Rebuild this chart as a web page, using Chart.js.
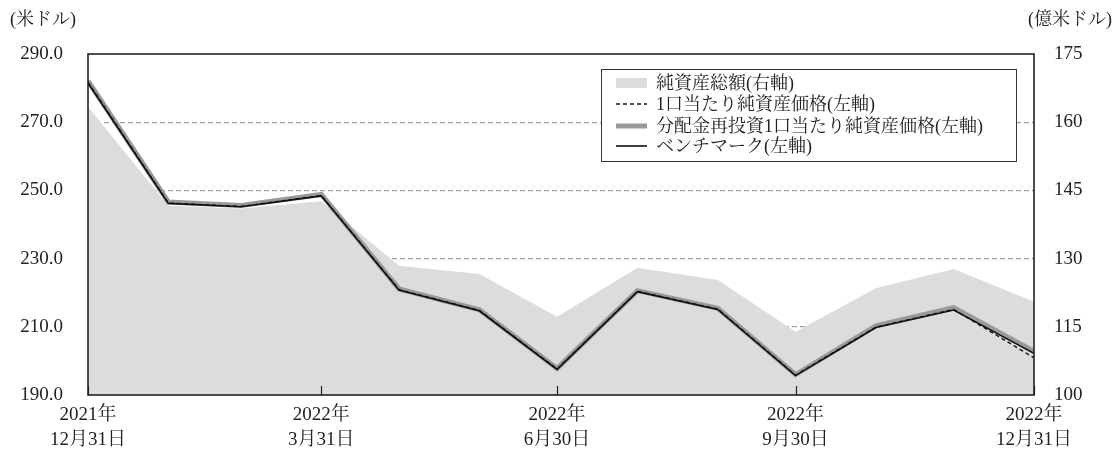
<!DOCTYPE html>
<html>
<head>
<meta charset="utf-8">
<script src="https://cdn.jsdelivr.net/npm/chart.js@4"></script>
<style>
  body { margin: 0; background: #fff; }
</style>
</head>
<body>
<canvas id="navChart" width="1115" height="450"></canvas>
<script>
// month-end observation dates
const dates = [
  "2021-12-31", "2022-01-31", "2022-02-28", "2022-03-31", "2022-04-30", "2022-05-31",
  "2022-06-30", "2022-07-31", "2022-08-31", "2022-09-30", "2022-10-31", "2022-11-30", "2022-12-31"
];
// 純資産総額 (億米ドル, right axis)
const totalAssets = [163.4, 141.6, 141.0, 142.6, 128.4, 126.6, 117.2, 128.0, 125.3, 113.9, 123.5, 127.7, 120.5];
// 1口当たり純資産価格 (米ドル)
const navPerUnit = [281.8, 246.3, 245.3, 248.5, 220.9, 214.8, 197.6, 220.4, 215.2, 195.8, 209.9, 215.1, 200.9];
// 分配金再投資1口当たり純資産価格 (米ドル)
const navReinvested = [282.1, 246.6, 245.6, 248.8, 221.1, 215.0, 197.8, 220.6, 215.4, 196.0, 210.3, 215.6, 202.8];
// ベンチマーク (米ドル)
const benchmark = [281.5, 246.2, 245.2, 248.4, 220.8, 214.7, 197.5, 220.3, 215.1, 195.7, 209.8, 214.9, 202.2];

// quarter-end axis labels
const tickDates = ["2021-12-31", "2022-03-31", "2022-06-30", "2022-09-30", "2022-12-31"];
const tickLabels = [
  ["2021年", "12月31日"],
  ["2022年", "3月31日"],
  ["2022年", "6月30日"],
  ["2022年", "9月30日"],
  ["2022年", "12月31日"]
];

const legendItems = [
  "純資産総額(右軸)",
  "1口当たり純資産価格(左軸)",
  "分配金再投資1口当たり純資産価格(左軸)",
  "ベンチマーク(左軸)"
];

const FONT = '"Liberation Serif", "Noto Serif CJK JP", "Noto Sans CJK JP", serif';
const DAY = 86400000;
const dayOf = d => (Date.parse(d) - Date.parse(dates[0])) / DAY;
const series = vals => vals.map((v, i) => ({ x: dayOf(dates[i]), y: v }));
const tickDays = tickDates.map(dayOf);

const frameAndLegend = {
  id: "frameAndLegend",
  afterDatasetsDraw(chart) {
    const { ctx, chartArea: a, scales } = chart;
    ctx.save();

    // inward tick marks on the date axis
    ctx.strokeStyle = "#222";
    ctx.lineWidth = 1.2;
    tickDays.forEach(d => {
      const x = Math.round(scales.x.getPixelForValue(d)) + 0.5;
      ctx.beginPath();
      ctx.moveTo(x, a.bottom);
      ctx.lineTo(x, a.bottom - 9);
      ctx.stroke();
    });

    // plot frame
    ctx.strokeStyle = "#222";
    ctx.lineWidth = 1.6;
    ctx.strokeRect(a.left, a.top, a.right - a.left, a.bottom - a.top);

    // legend box
    const bx = 601, by = 69, bw = 415, bh = 92;
    ctx.fillStyle = "#fff";
    ctx.fillRect(bx, by, bw, bh);
    ctx.strokeStyle = "#333";
    ctx.lineWidth = 1;
    ctx.strokeRect(bx + 0.5, by + 0.5, bw, bh);

    ctx.font = "18px " + FONT;
    ctx.textBaseline = "middle";
    ctx.textAlign = "left";
    const rows = [83, 104, 126, 146];
    const sx = 616, ex = 647;
    rows.forEach((y, i) => {
      ctx.save();
      if (i === 0) {
        ctx.fillStyle = "#dcdcdc";
        ctx.fillRect(sx, y - 5, ex - sx, 10);
      } else if (i === 1) {
        ctx.strokeStyle = "#111";
        ctx.lineWidth = 1.5;
        ctx.setLineDash([4, 3]);
        ctx.beginPath(); ctx.moveTo(sx, y); ctx.lineTo(ex, y); ctx.stroke();
      } else if (i === 2) {
        ctx.strokeStyle = "#999";
        ctx.lineWidth = 5;
        ctx.beginPath(); ctx.moveTo(sx, y); ctx.lineTo(ex, y); ctx.stroke();
      } else {
        ctx.strokeStyle = "#111";
        ctx.lineWidth = 1.6;
        ctx.beginPath(); ctx.moveTo(sx, y); ctx.lineTo(ex, y); ctx.stroke();
      }
      ctx.restore();
      ctx.fillStyle = "#222";
      ctx.fillText(legendItems[i], 656, y + 1);
    });

    // unit captions
    ctx.font = "18px " + FONT;
    ctx.fillStyle = "#222";
    ctx.textAlign = "left";
    ctx.fillText("(米ドル)", 10, 20);
    ctx.textAlign = "right";
    ctx.fillText("(億米ドル)", 1112, 20);
    ctx.restore();
  }
};

new Chart(document.getElementById("navChart").getContext("2d"), {
  type: "line",
  data: {
    datasets: [
      {
        label: legendItems[0],
        data: series(totalAssets),
        yAxisID: "y2",
        fill: "start",
        backgroundColor: "#dcdcdc",
        borderWidth: 0,
        pointRadius: 0,
        order: 4
      },
      {
        label: legendItems[1],
        data: series(navPerUnit),
        yAxisID: "y",
        borderColor: "#111",
        borderWidth: 1.4,
        borderDash: [4, 3],
        pointRadius: 0,
        fill: false,
        order: 2
      },
      {
        label: legendItems[2],
        data: series(navReinvested),
        yAxisID: "y",
        borderColor: "#999",
        borderWidth: 5,
        pointRadius: 0,
        fill: false,
        order: 3
      },
      {
        label: legendItems[3],
        data: series(benchmark),
        yAxisID: "y",
        borderColor: "#111",
        borderWidth: 1.6,
        pointRadius: 0,
        fill: false,
        order: 1
      }
    ]
  },
  options: {
    responsive: false,
    animation: false,
    layout: { padding: { top: 54, left: 0, right: 0, bottom: 0 } },
    plugins: {
      legend: { display: false },
      tooltip: { enabled: false }
    },
    scales: {
      x: {
        type: "linear",
        min: 0,
        max: dayOf(dates[dates.length - 1]),
        afterBuildTicks: scale => { scale.ticks = tickDays.map(v => ({ value: v })); },
        afterFit: scale => { scale.height = 55; },
        ticks: {
          autoSkip: false,
          maxRotation: 0,
          padding: 8,
          color: "#222",
          font: { family: FONT, size: 19, lineHeight: 1.3 },
          callback: (v, i) => tickLabels[i]
        },
        grid: { display: false, drawTicks: false },
        border: { display: false }
      },
      y: {
        position: "left",
        min: 190,
        max: 290,
        afterFit: scale => { scale.width = 88; },
        ticks: {
          stepSize: 20,
          padding: 25,
          color: "#222",
          font: { family: FONT, size: 19 },
          callback: v => v.toFixed(1)
        },
        grid: {
          drawTicks: false,
          color: ctx => (ctx.tick && (ctx.tick.value === 190 || ctx.tick.value === 290)) ? "rgba(0,0,0,0)" : "#a0a0a0",
          lineWidth: 1.2
        },
        border: { display: false, dash: [5, 3] }
      },
      y2: {
        position: "right",
        min: 100,
        max: 175,
        afterFit: scale => { scale.width = 81; },
        ticks: {
          stepSize: 15,
          padding: 20,
          color: "#222",
          font: { family: FONT, size: 19 },
          callback: v => String(v)
        },
        grid: { display: false, drawTicks: false },
        border: { display: false }
      }
    }
  },
  plugins: [frameAndLegend]
});
</script>
</body>
</html>
